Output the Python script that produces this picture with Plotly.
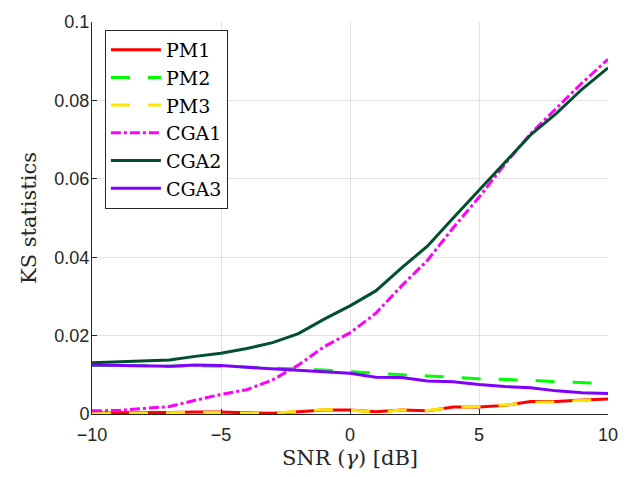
import plotly.graph_objects as go

snr = list(range(-10, 11))

pm1 = [0.0003, 0.0003, 0.0003, 0.0004, 0.0005, 0.0005, 0.0003, 0.0002, 0.0006, 0.0010, 0.0010,
       0.0006, 0.0010, 0.0008, 0.0018, 0.0018, 0.0022, 0.0032, 0.0032, 0.0036, 0.0038]
pm2 = [0.0124, 0.0124, 0.0123, 0.0122, 0.0123, 0.0122, 0.0120, 0.0117, 0.0115, 0.0112, 0.0108,
       0.0103, 0.0100, 0.0097, 0.0093, 0.0090, 0.0088, 0.0086, 0.0082, 0.0080, 0.0078]
pm3 = [0.0002, 0.0002, 0.0002, 0.0003, 0.0004, 0.0004, 0.0002, 0.0002, 0.0007, 0.0011, 0.0010,
       0.0005, 0.0010, 0.0009, 0.0017, 0.0019, 0.0023, 0.0030, 0.0031, 0.0035, 0.0037]
cga1 = [0.0008, 0.0009, 0.0014, 0.0019, 0.0035, 0.0050, 0.0062, 0.0087, 0.0125, 0.0172, 0.0207,
        0.0257, 0.0327, 0.0392, 0.0475, 0.0553, 0.0637, 0.0715, 0.0780, 0.0845, 0.0905]
cga2 = [0.0131, 0.0133, 0.0135, 0.0138, 0.0147, 0.0155, 0.0167, 0.0182, 0.0205, 0.0242, 0.0276,
        0.0314, 0.0373, 0.0428, 0.0500, 0.0570, 0.0642, 0.0712, 0.0767, 0.0829, 0.0883]
cga3 = [0.0125, 0.0124, 0.0123, 0.0122, 0.0125, 0.0124, 0.0119, 0.0115, 0.0112, 0.0108, 0.0104,
        0.0094, 0.0093, 0.0084, 0.0082, 0.0075, 0.0070, 0.0067, 0.0059, 0.0054, 0.0052]

series = [
    ("PM1", pm1, "#FF0000", "solid"),
    ("PM2", pm2, "#00FF00", "19px,18px"),
    ("PM3", pm3, "#FFE600", "19px,18px"),
    ("CGA1", cga1, "#FF00FF", "10px,3px,3px,3px"),
    ("CGA2", cga2, "#00502E", "solid"),
    ("CGA3", cga3, "#8000FF", "solid"),
]

fig = go.Figure()
for name, vals, color, dash in series:
    fig.add_trace(go.Scatter(x=snr, y=vals, name=name, mode="lines",
                             line=dict(color=color, width=3, dash=dash)))

fig.update_layout(
    width=636, height=477,
    margin=dict(l=92, r=28, t=15, b=62),
    plot_bgcolor="white", paper_bgcolor="white",
    font=dict(family="Liberation Sans", size=18, color="#262626"),
    showlegend=True,
    legend=dict(x=0.025, y=0.98, xanchor="left", yanchor="top",
                bgcolor="white", bordercolor="#262626", borderwidth=1,
                font=dict(family="DejaVu Serif", size=19, color="black"),
                itemwidth=50, tracegroupgap=0),
)
fig.update_xaxes(range=[-10, 10], tickvals=[-10, -5, 0, 5, 10],
                 showgrid=True, gridcolor="#E2E2E2", gridwidth=1, zeroline=False,
                 showline=True, linecolor="#262626", linewidth=1,
                 ticks="inside", ticklen=5, tickcolor="#262626", ticklabelstandoff=4,
                 title=dict(text="SNR (<i>γ</i>) [dB]", standoff=6,
                            font=dict(family="DejaVu Serif", size=21, color="#262626")))
fig.update_yaxes(range=[0, 0.1], tickvals=[0, 0.02, 0.04, 0.06, 0.08, 0.1],
                 ticktext=["0", "0.02", "0.04", "0.06", "0.08", "0.1"],
                 showgrid=True, gridcolor="#E2E2E2", gridwidth=1, zeroline=False,
                 showline=True, linecolor="#262626", linewidth=1,
                 ticks="inside", ticklen=5, tickcolor="#262626", ticklabelstandoff=-2,
                 title=dict(text="KS statistics", standoff=12,
                            font=dict(family="DejaVu Serif", size=21, color="#262626")))

fig.write_html("out.html")
